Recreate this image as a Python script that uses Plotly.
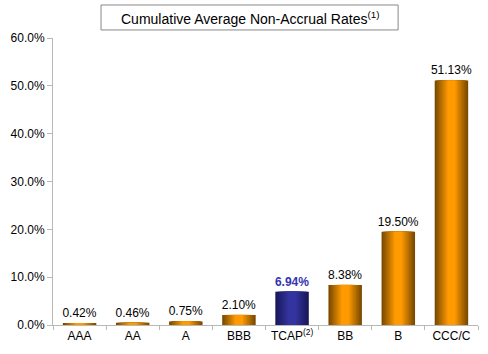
import plotly.graph_objects as go

categories = ["AAA", "AA", "A", "BBB", "TCAP<sup>(2)</sup>", "BB", "B", "CCC/C"]
values = [0.42, 0.46, 0.75, 2.10, 6.94, 8.38, 19.50, 51.13]
labels = ["0.42%", "0.46%", "0.75%", "2.10%", "<b>6.94%</b>", "8.38%", "19.50%", "51.13%"]
highlight = [False, False, False, False, True, False, False, False]

def lerp(c1, c2, t):
    return "#%02x%02x%02x" % tuple(int(round(a + (b - a) * t)) for a, b in zip(c1, c2))

orange_edge, orange_mid = (122, 74, 0), (255, 154, 0)
navy_edge, navy_mid = (24, 24, 90), (52, 52, 160)

W = 0.63
N = 10
fig = go.Figure()
for i in range(N):
    t = i / (N - 1)
    frac = 1 - 0.85 * (i / N)
    colors = [lerp(navy_edge, navy_mid, t) if h else lerp(orange_edge, orange_mid, t) for h in highlight]
    kw = {}
    if i == 0:
        kw = dict(text=labels, textposition="outside", cliponaxis=False,
                  textfont=dict(family="Arial, Liberation Sans", size=12,
                                color=["#3535b0" if h else "#000000" for h in highlight]))
    fig.add_trace(go.Bar(x=categories, y=values, width=W * frac,
                         marker=dict(color=colors, line=dict(width=0)),
                         hoverinfo="skip", showlegend=False, **kw))

fig.update_layout(
    barmode="overlay",
    width=488, height=354,
    margin=dict(l=53, r=10, t=38, b=29),
    paper_bgcolor="white", plot_bgcolor="white",
    font=dict(family="Arial, Liberation Sans", size=12, color="black"),
    uniformtext=dict(mode="show", minsize=12),
)
fig.update_xaxes(type="category", showline=True, linecolor="#b8b8b8", linewidth=1,
                 ticks="outside", tickson="boundaries", ticklen=4, tickcolor="#b8b8b8",
                 showgrid=False, tickfont=dict(size=12))
fig.update_yaxes(range=[0, 60], dtick=10, tickformat=".1f", ticksuffix="%",
                 showline=True, linecolor="#b8b8b8", linewidth=1, ticks="outside",
                 ticklen=5, tickcolor="#b8b8b8", showgrid=False, zeroline=False,
                 tickfont=dict(size=12))

fig.add_shape(type="rect", xref="paper", yref="paper",
              x0=0.113, x1=0.812, y0=1.028, y1=1.115,
              line=dict(color="#888888", width=1), fillcolor="white")
fig.add_annotation(xref="paper", yref="paper", x=0.4625, y=1.071,
                   text="Cumulative Average Non-Accrual Rates<sup>(1)</sup>",
                   showarrow=False, font=dict(size=14, color="black"),
                   xanchor="center", yanchor="middle")

fig.write_html("out.html")
